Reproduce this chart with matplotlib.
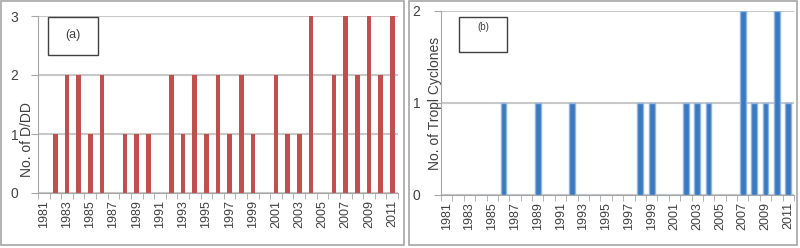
import matplotlib.pyplot as plt
import numpy as np
from matplotlib.patches import Rectangle

plt.rcParams['font.family'] = ['Liberation Sans', 'DejaVu Sans']

# data
years = np.arange(1981, 2012)
dd_counts = [0, 1, 2, 2, 1, 2, 0, 1, 1, 1, 0, 2, 1, 2, 1, 2, 1, 2, 1, 0,
             2, 1, 1, 3, 0, 2, 3, 2, 3, 2, 3]
tc_counts = [0, 0, 0, 0, 0, 1, 0, 0, 1, 0, 0, 1, 0, 0, 0, 0, 0, 1, 1, 0,
             0, 1, 1, 1, 0, 0, 2, 1, 1, 2, 1]
year_labels = [str(y) for y in years]

W, H = 800, 248
fig = plt.figure(figsize=(W / 100, H / 100), dpi=100)

grey = '#a6a6a6'
txt = '#404040'


def px_axes(x0, x1, y_top, y_bot):
    return fig.add_axes([x0 / W, (H - y_bot) / H, (x1 - x0) / W, (y_bot - y_top) / H])


def style(ax, ymax, label, lab_xy, ypad):
    ax.set_xlim(years[0] - 0.5, years[-1] + 0.5)
    ax.set_ylim(0, ymax)
    ax.set_yticks(range(ymax + 1))
    ax.yaxis.grid(True, color='#c8c8c8', lw=1.5)
    ax.set_axisbelow(True)
    for s in ['top', 'right']:
        ax.spines[s].set_visible(False)
    for s in ['left', 'bottom']:
        ax.spines[s].set_color(grey)
    ax.set_xticks(years[::2])
    ax.set_xticklabels(year_labels[::2], rotation=90, fontsize=9, color=txt)
    ax.set_xticks(np.arange(years[0] - 0.5, years[-1] + 1), minor=True)
    ax.tick_params(axis='x', which='major', length=0, pad=5)
    ax.tick_params(axis='x', which='minor', length=4, color=grey)
    ax.tick_params(axis='y', length=5, color=grey, labelsize=10, labelcolor=txt, pad=ypad)
    ax.set_ylabel(label, fontsize=10, color=txt)
    ax.yaxis.set_label_coords(*lab_xy)


# panel (a)
ax1 = px_axes(38, 398, 16, 193)
ax1.bar(years, dd_counts, width=0.4, color='#c0504d')
style(ax1, 3, 'No. of D/DD', (-0.012, 0.30), 9)
ax1.add_patch(Rectangle((48 / W, 1 - 55 / H), 50 / W, 38 / H, transform=fig.transFigure,
                        fill=True, facecolor='white', edgecolor='#404040', lw=1, zorder=5))
fig.text(73 / W, 1 - 35 / H, '(a)', ha='center', va='center', fontsize=9, color=txt, zorder=6)

# panel (b)
ax2 = px_axes(441, 794, 11, 195)
ax2.bar(years, tc_counts, width=0.5, color='#3a78c0', edgecolor='#8db4e2', lw=1)
style(ax2, 2, 'No. of Tropl Cyclones', (0.002, 0.5), 10)
ax2.add_patch(Rectangle((459 / W, 1 - 52 / H), 48 / W, 35 / H, transform=fig.transFigure,
                        fill=True, facecolor='white', edgecolor='#404040', lw=1, zorder=5))
fig.text(483 / W, 1 - 27 / H, '(b)', ha='center', va='center', fontsize=7, color=txt, zorder=6)

# outer frames of the two panels
for x0, x1 in [(1, 404), (409, 797)]:
    fig.patches.append(Rectangle((x0 / W, 1 - 245 / H), (x1 - x0) / W, 244 / H,
                                 transform=fig.transFigure, fill=False,
                                 edgecolor=grey, lw=1.2))

fig.savefig('out.png', dpi=100)
